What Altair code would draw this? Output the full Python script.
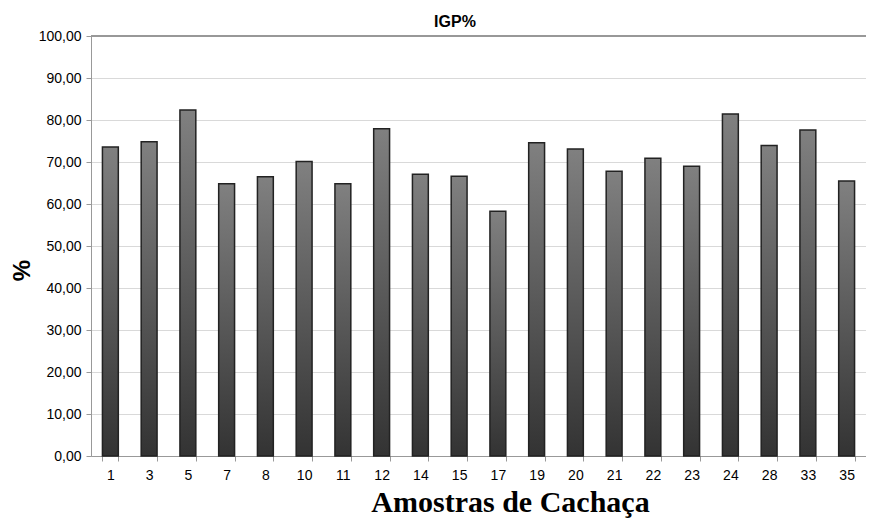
import altair as alt
import pandas as pd

amostras = ["1", "3", "5", "7", "8", "10", "11", "12", "14", "15",
            "17", "19", "20", "21", "22", "23", "24", "28", "33", "35"]
igp = [73.6, 74.8, 82.4, 64.8, 66.5, 70.1, 64.8, 77.9, 67.1, 66.6,
       58.3, 74.6, 73.1, 67.8, 70.9, 69.0, 81.4, 73.9, 77.6, 65.5]
y_ticks = [0, 10, 20, 30, 40, 50, 60, 70, 80, 90, 100]
chart_title = "IGP%"

df = pd.DataFrame({"amostra": amostras, "igp": igp})
title_df = pd.DataFrame({"t": [chart_title]})

gradient = alt.Gradient(
    gradient="linear",
    stops=[alt.GradientStop(color="#333333", offset=0),
           alt.GradientStop(color="#808080", offset=1)],
    x1=0, x2=0, y1=1, y2=0,
)

x_enc = alt.X(
    "amostra:N", sort=amostras,
    scale=alt.Scale(paddingInner=0.59, paddingOuter=0.295),
    axis=alt.Axis(
        title="Amostras de Cachaça", labelAngle=0, labelFontSize=14,
        labelFont="Liberation Sans", labelColor="#000000", labelPadding=7,
        tickBand="extent", tickSize=5, tickColor="#999999",
        domainColor="#999999", grid=False,
        titleFont="Liberation Serif", titleFontSize=30, titleFontWeight="bold",
        titleColor="#000000", titleBaseline="alphabetic", titleY=55, titleX=419,
    ),
)

y_enc = alt.Y(
    "igp:Q",
    scale=alt.Scale(domain=[0, 100], nice=False),
    axis=alt.Axis(
        title="%", values=y_ticks,
        labelExpr="replace(format(datum.value, '.2f'), '.', ',')",
        labelFontSize=14, labelFont="Liberation Sans", labelColor="#000000",
        labelPadding=5, tickSize=5, tickColor="#999999", domainColor="#999999",
        gridColor="#d9d9d9", gridWidth=1,
        titleFont="Liberation Sans", titleFontSize=24, titleFontWeight="bold",
        titleColor="#000000", titleAngle=-90, titleBaseline="middle",
        titleX=-69, titleY=234,
    ),
)

bars = alt.Chart(df).mark_bar(
    color=gradient, stroke="#222222", strokeWidth=1.5
).encode(x=x_enc, y=y_enc)

top_line = alt.Chart(df).mark_rule(color="#999999", strokeWidth=1.5).encode(
    y=alt.datum(100)
)

title_text = alt.Chart(title_df).mark_text(
    font="Liberation Sans", fontSize=16, fontWeight="bold", color="#000000",
    align="center", baseline="alphabetic",
).encode(text="t:N", x=alt.value(364), y=alt.value(-9))

chart = alt.layer(bars, top_line, title_text).properties(
    width=775, height=420,
    autosize=alt.AutoSizeParams(type="none"),
    padding={"left": 83, "top": 28, "right": 0, "bottom": 62},
).configure_view(stroke=None).configure(background="#ffffff")

chart.save("out.html", embed_options={"renderer": "svg", "actions": False})
